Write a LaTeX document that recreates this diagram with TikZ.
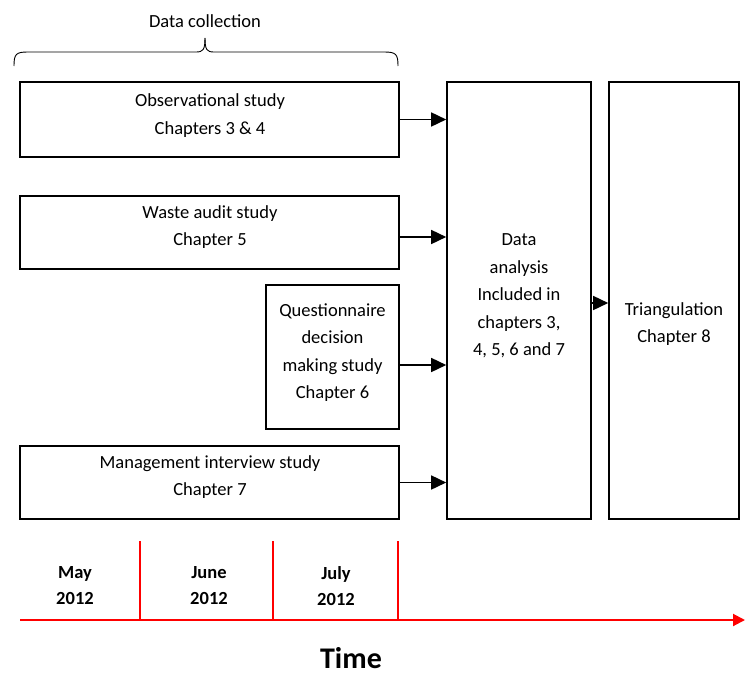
\documentclass[tikz,border=0pt]{standalone}
\usepackage{fontspec}
\setmainfont{Carlito}
\usetikzlibrary{arrows.meta,calc}
\begin{document}
\begin{tikzpicture}[x=1pt,y=-1pt,
  box/.style={draw=black,line width=1.6pt,inner sep=0pt},
  txt/.style={align=center,inner sep=0pt,font=\fontsize{18.5}{27.5}\selectfont},
  month/.style={align=center,inner sep=0pt,font=\fontsize{18.5}{26}\selectfont\bfseries},
  arr/.style={line width=1.6pt,-{Triangle[length=15pt,width=14pt]}},
  tline/.style={draw=red,line width=2pt}]
\useasboundingbox (0,0) rectangle (745,675);

% study boxes
\node[box,minimum width=379pt,minimum height=75pt] (obs) at (209.5,119.5) {};
\node[box,minimum width=379pt,minimum height=73pt] (waste) at (209.5,232.5) {};
\node[box,minimum width=133pt,minimum height=144pt] (quest) at (332.5,357) {};
\node[box,minimum width=379pt,minimum height=73pt] (mgmt) at (209.5,482.5) {};
\node[box,minimum width=144pt,minimum height=437pt] (da) at (519,300.5) {};
\node[box,minimum width=130pt,minimum height=437pt] (tri) at (674,300.5) {};

% box texts
\node[txt] (obst) at (210,115.5) {Observational study\\Chapters 3 \& 4};
\node[txt] (wastet) at (210,227) {Waste audit study\\Chapter 5};
\node[txt] (questt) at (332.5,352.5) {Questionnaire\\decision\\making study\\Chapter 6};
\node[txt] (mgmtt) at (210,477) {Management interview study\\Chapter 7};
\node[txt] (dat) at (519,296) {Data\\analysis\\Included in\\chapters 3,\\4, 5, 6 and 7};
\node[txt] (trit) at (674,324) {Triangulation\\Chapter 8};

% flows into the analysis and triangulation
\draw[arr] (obs.east) -- (obs.east -| da.west);
\draw[arr] ($(waste.east)+(0,4.5)$) -- ($(waste.east -| da.west)+(0,4.5)$);
\draw[arr] ($(quest.east)+(0,8)$) -- ($(quest.east -| da.west)+(0,8)$);
\draw[arr] (mgmt.east) -- (mgmt.east -| da.west);
\draw[arr] ($(da.east)+(0,2.5)$) -- ($(da.east -| tri.west)+(0,2.5)$);

% brace over the data collection studies
\node[inner sep=0pt,font=\fontsize{18.5}{22}\selectfont] (dc) at (205,21) {Data collection};
\coordinate (bl) at (14,66);
\coordinate (br) at (398,66);
\coordinate (btip) at (205,38);
\draw[line width=0.9pt] (bl) .. controls (14,54) and (16,52) .. (28,52) -- (196,52)
  .. controls (203,52) and (205,50) .. (btip);
\draw[line width=0.9pt] (br) .. controls (398,54) and (396,52) .. (384,52) -- (214,52)
  .. controls (207,52) and (205,50) .. (btip);

% timeline
\coordinate (t0) at (20,620);
\coordinate (t1) at (745,620);
\draw[tline,-{Triangle[length=12pt,width=12pt]}] (t0) -- (t1);
\coordinate (m1) at (140,541);
\coordinate (m2) at (273,541);
\coordinate (m3) at (398,541);
\draw[tline] (m1) -- (m1 |- t0);
\draw[tline] (m2) -- (m2 |- t0);
\draw[tline] (m3) -- (m3 |- t0);
\node[month] (may) at (75,586) {May\\2012};
\node[month] (jun) at (209,586) {June\\2012};
\node[month] (jul) at (336,586) {July\\2012};
\node[inner sep=0pt,font=\fontsize{30}{34}\selectfont\bfseries] (time) at (351,658) {Time};
\end{tikzpicture}
\end{document}
